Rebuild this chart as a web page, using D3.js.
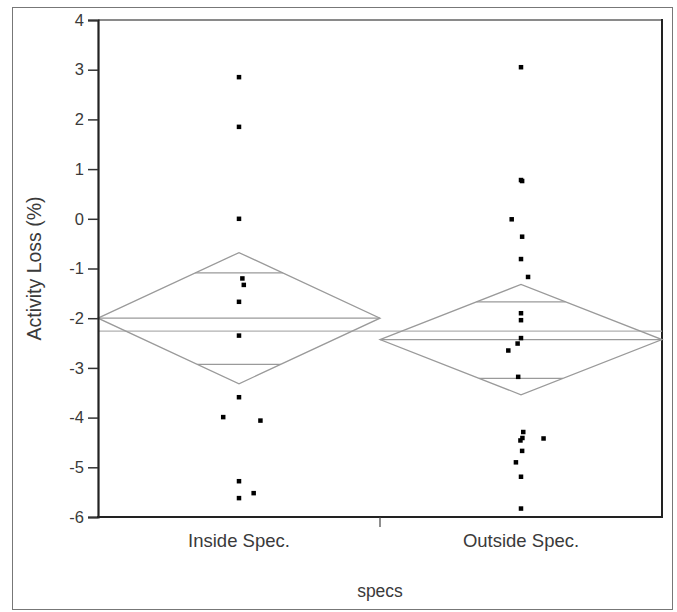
<!DOCTYPE html>
<html>
<head>
<meta charset="utf-8">
<script src="https://cdn.jsdelivr.net/npm/d3@7"></script>
<style>
  body { margin: 0; background: #fff; }
  text { font-family: "Liberation Sans", Arial, sans-serif; fill: #3a3a3a; }
</style>
</head>
<body>
<div id="chart"></div>
<script>
// categories and read-off values
var categories = ["Inside Spec.", "Outside Spec."];

var insideValues = [2.85, 1.85, 0.0, -1.2, -1.33, -1.67, -2.35, -3.59, -3.99, -4.06, -5.28, -5.52, -5.62];
// horizontal jitter, as fraction of the category band
var insideJitter = [0, 0, 0, 0.012, 0.017, 0, 0, 0, -0.056, 0.076, 0, 0.052, 0];

var outsideValues = [3.05, 0.78, 0.76, -0.01, -0.36, -0.81, -1.17, -1.90, -2.04, -2.40, -2.51, -2.65, -3.18,
  -4.29, -4.41, -4.46, -4.42, -4.67, -4.90, -5.19, -5.83];
var outsideJitter = [0, 0, 0.004, -0.033, 0.004, 0, 0.025, 0, 0, 0, -0.012, -0.045, -0.010,
  0.008, 0.005, -0.002, 0.080, 0.004, -0.018, 0, 0];

// means diamonds
var groupMeans = [-2.0, -2.43];
var ciUpper = [-0.68, -1.32];
var ciLower = [-3.32, -3.54];
var overlapUpper = [-1.09, -1.67];
var overlapLower = [-2.93, -3.21];
var grandMean = -2.26;

var yTicks = [4, 3, 2, 1, 0, -1, -2, -3, -4, -5, -6];

var W = 677, H = 612;
var plot = { left: 98, right: 662, top: 20, bottom: 517 };

var svg = d3.select("#chart").append("svg")
    .attr("width", W)
    .attr("height", H);

// outer frame
svg.append("rect")
    .attr("x", 12.5).attr("y", 7.5)
    .attr("width", 660).attr("height", 602)
    .attr("fill", "none")
    .attr("stroke", "#777")
    .attr("stroke-width", 1);

var x = d3.scaleBand()
    .domain(categories)
    .range([plot.left, plot.right])
    .padding(0);

var y = d3.scaleLinear()
    .domain([-6, 4])
    .range([plot.bottom, plot.top]);

var bw = x.bandwidth();

// top and right plot borders
svg.append("line")
    .attr("x1", plot.left).attr("x2", plot.right)
    .attr("y1", plot.top).attr("y2", plot.top)
    .attr("stroke", "#8a8a8a").attr("stroke-width", 2);
svg.append("line")
    .attr("x1", plot.right).attr("x2", plot.right)
    .attr("y1", plot.top - 1).attr("y2", plot.bottom + 1)
    .attr("stroke", "#222").attr("stroke-width", 2);

// grand mean line
svg.append("line")
    .attr("x1", plot.left).attr("x2", plot.right)
    .attr("y1", y(grandMean)).attr("y2", y(grandMean))
    .attr("stroke", "#b0b0b0").attr("stroke-width", 1.2);

// diamonds
var diamonds = svg.append("g").attr("class", "diamonds");
categories.forEach(function(c, i) {
  var x0 = x(c), x1 = x(c) + bw, xm = x(c) + bw / 2;
  var pts = [[x0, y(groupMeans[i])], [xm, y(ciUpper[i])], [x1, y(groupMeans[i])], [xm, y(ciLower[i])]];
  diamonds.append("path")
      .attr("d", d3.line()(pts) + "Z")
      .attr("fill", "none")
      .attr("stroke", "#9a9a9a")
      .attr("stroke-width", 1.3);
  diamonds.append("line")
      .attr("x1", x0).attr("x2", x1)
      .attr("y1", y(groupMeans[i])).attr("y2", y(groupMeans[i]))
      .attr("stroke", "#9a9a9a").attr("stroke-width", 1.3);
  // overlap marks span the diamond width at their height
  [[overlapUpper[i], ciUpper[i]], [overlapLower[i], ciLower[i]]].forEach(function(p) {
    var frac = 1 - (p[0] - groupMeans[i]) / (p[1] - groupMeans[i]);
    var half = bw / 2 * frac;
    diamonds.append("line")
        .attr("x1", xm - half).attr("x2", xm + half)
        .attr("y1", y(p[0])).attr("y2", y(p[0]))
        .attr("stroke", "#9a9a9a").attr("stroke-width", 1.3);
  });
});

// points
var pointData = [];
insideValues.forEach(function(v, i) { pointData.push({ cat: categories[0], v: v, j: insideJitter[i] }); });
outsideValues.forEach(function(v, i) { pointData.push({ cat: categories[1], v: v, j: outsideJitter[i] }); });

var ps = 4.5;
svg.append("g").selectAll("rect")
    .data(pointData)
    .enter().append("rect")
    .attr("x", function(d) { return x(d.cat) + bw / 2 + d.j * bw - ps / 2; })
    .attr("y", function(d) { return y(d.v) - ps / 2; })
    .attr("width", ps).attr("height", ps)
    .attr("fill", "#000");

// y axis
var yAxis = d3.axisLeft(y)
    .tickValues(yTicks)
    .tickFormat(function(d) { return String(d); })
    .tickSize(10).tickPadding(4);
var gy = svg.append("g")
    .attr("transform", "translate(" + plot.left + ",0)")
    .call(yAxis);
gy.select(".domain").attr("stroke", "#222").attr("stroke-width", 2.2);
gy.selectAll(".tick line").attr("stroke", "#333").attr("stroke-width", 1.5);
gy.selectAll(".tick text")
    .style("font-size", "16.5px")
    .style("font-family", "'Liberation Sans', Arial, sans-serif")
    .attr("fill", "#3a3a3a");

// x axis
svg.append("line")
    .attr("x1", plot.left - 1).attr("x2", plot.right + 1)
    .attr("y1", plot.bottom).attr("y2", plot.bottom)
    .attr("stroke", "#222").attr("stroke-width", 2);
svg.append("line")
    .attr("x1", x(categories[1])).attr("x2", x(categories[1]))
    .attr("y1", plot.bottom).attr("y2", plot.bottom + 10)
    .attr("stroke", "#444").attr("stroke-width", 1.2);

svg.append("g").selectAll("text")
    .data(categories)
    .enter().append("text")
    .attr("x", function(d) { return x(d) + bw / 2; })
    .attr("y", 547)
    .attr("text-anchor", "middle")
    .style("font-size", "18.5px")
    .text(function(d) { return d; });

// axis titles
svg.append("text")
    .attr("x", x(categories[1]))
    .attr("y", 597)
    .attr("text-anchor", "middle")
    .style("font-size", "17.5px")
    .text("specs");

svg.append("text")
    .attr("transform", "translate(41," + ((plot.top + plot.bottom) / 2) + ") rotate(-90)")
    .attr("text-anchor", "middle")
    .style("font-size", "19.5px")
    .text("Activity Loss (%)");
</script>
</body>
</html>
